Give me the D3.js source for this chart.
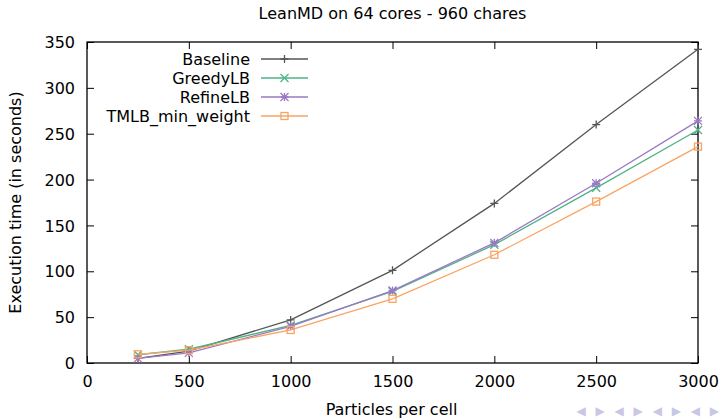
<!DOCTYPE html>
<html><head><meta charset="utf-8">
<script src="https://cdn.jsdelivr.net/npm/d3@7"></script>
<style>body{margin:0;background:#fff}svg{display:block;font-family:"DejaVu Sans",sans-serif}</style>
</head><body>
<svg id="c" width="724" height="419"></svg>
<script>
const particles = [250, 500, 1000, 1500, 2000, 2500, 3000];
const baseline = [5, 13, 47, 101, 174, 260, 342];
const greedyLB = [9, 15, 41, 78, 129, 191, 254];
const refineLB = [5, 11, 40, 79, 131, 196, 264];
const tmlbMinWeight = [9.5, 14, 36, 70, 118, 176, 236];
const seriesNames = ["Baseline", "GreedyLB", "RefineLB", "TMLB_min_weight"];
const xTicks = [0, 500, 1000, 1500, 2000, 2500, 3000];
const yTicks = [0, 50, 100, 150, 200, 250, 300, 350];

const colors = ["#555555", "#4fb386", "#9b78c6", "#f9a463"];
const symbols = ["plus", "cross", "star", "square"];
const seriesVals = [baseline, greedyLB, refineLB, tmlbMinWeight];

const FS = 16;
const svg = d3.select("#c");
const L = 87, R = 698, T = 42, B = 363;
const x = d3.scaleLinear().domain([0, 3000]).range([L, R]);
const y = d3.scaleLinear().domain([0, 350]).range([B, T]);

// title
svg.append("text").attr("x", (L + R) / 2).attr("y", 19).attr("text-anchor", "middle")
  .attr("font-size", FS).text("LeanMD on 64 cores - 960 chares");

// axes
const tickLen = 7;
const fmt = d3.format("d");
const gx = svg.append("g").attr("transform", `translate(0,${B})`)
  .call(d3.axisBottom(x).tickValues(xTicks).tickFormat(fmt).tickSizeInner(-tickLen).tickSizeOuter(0).tickPadding(13));
const gxTop = svg.append("g").attr("transform", `translate(0,${T})`)
  .call(d3.axisTop(x).tickValues(xTicks).tickSizeInner(-tickLen).tickSizeOuter(0).tickFormat(""));
const gy = svg.append("g").attr("transform", `translate(${L},0)`)
  .call(d3.axisLeft(y).tickValues(yTicks).tickFormat(fmt).tickSizeInner(-tickLen).tickSizeOuter(0).tickPadding(12));
const gyR = svg.append("g").attr("transform", `translate(${R},0)`)
  .call(d3.axisRight(y).tickValues(yTicks).tickSizeInner(-tickLen).tickSizeOuter(0).tickFormat(""));
[gx, gxTop, gy, gyR].forEach(g => {
  g.select(".domain").remove();
  g.selectAll("line").attr("stroke", "#000").attr("stroke-width", 1);
  g.selectAll("text").attr("font-size", FS).attr("font-family", "DejaVu Sans").attr("fill", "#000");
});
gy.selectAll("text").attr("dy", "0.35em");
svg.append("rect").attr("x", L).attr("y", T).attr("width", R - L).attr("height", B - T)
  .attr("fill", "none").attr("stroke", "#000").attr("stroke-width", 1.3);

// axis labels
svg.append("text").attr("x", (L + R) / 2 - 1).attr("y", 414.5).attr("text-anchor", "middle")
  .attr("font-size", FS).text("Particles per cell");
svg.append("text").attr("transform", `translate(21,${(T + B) / 2}) rotate(-90)`)
  .attr("text-anchor", "middle").attr("font-size", FS).text("Execution time (in seconds)");

function drawSymbol(g, type, cx, cy, color) {
  const s = 4;
  if (type === "plus") {
    g.append("path").attr("d", `M${cx - s},${cy}H${cx + s}M${cx},${cy - s}V${cy + s}`);
  } else if (type === "cross") {
    g.append("path").attr("d", `M${cx - s},${cy - s}L${cx + s},${cy + s}M${cx - s},${cy + s}L${cx + s},${cy - s}`);
  } else if (type === "star") {
    g.append("path").attr("d", `M${cx - s},${cy}H${cx + s}M${cx},${cy - s}V${cy + s}M${cx - s},${cy - s}L${cx + s},${cy + s}M${cx - s},${cy + s}L${cx + s},${cy - s}`);
  } else {
    g.append("rect").attr("x", cx - 3.5).attr("y", cy - 3.5).attr("width", 7).attr("height", 7).attr("fill", "none");
  }
  g.attr("stroke", color).attr("stroke-width", 1.3).attr("fill", "none");
}

const line = d3.line().x(d => x(d[0])).y(d => y(d[1]));
seriesVals.forEach((vals, i) => {
  const pts = particles.map((p, j) => [p, vals[j]]);
  svg.append("path").datum(pts).attr("d", line).attr("fill", "none")
    .attr("stroke", colors[i]).attr("stroke-width", 1.3);
  pts.forEach(p => drawSymbol(svg.append("g"), symbols[i], x(p[0]), y(p[1]), colors[i]));
});

// legend
seriesNames.forEach((name, i) => {
  const ly = 59 + i * 19;
  svg.append("text").attr("x", 250).attr("y", ly).attr("dy", "0.35em").attr("text-anchor", "end")
    .attr("font-size", FS).text(name);
  svg.append("line").attr("x1", 261).attr("x2", 308).attr("y1", ly).attr("y2", ly)
    .attr("stroke", colors[i]).attr("stroke-width", 1.3);
  drawSymbol(svg.append("g"), symbols[i], 284.5, ly, colors[i]);
});

// faint navigation symbols (bottom right)
svg.append("text").attr("x", 722).attr("y", 415).attr("text-anchor", "end")
  .attr("font-size", 12).attr("fill", "#c8c8e6").attr("letter-spacing", 3).text("◀ ▶ ◀ ▶ ◀ ▶ ◀ ▶");
</script>
</body></html>
